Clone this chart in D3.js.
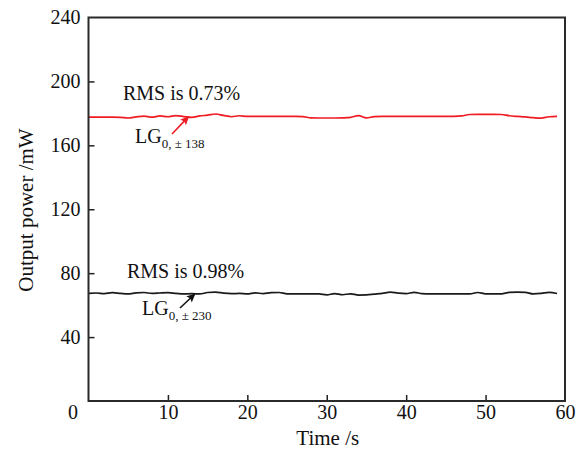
<!DOCTYPE html>
<html>
<head>
<meta charset="utf-8">
<script src="https://cdn.jsdelivr.net/npm/d3@7/dist/d3.min.js"></script>
<style>
  html, body { margin: 0; padding: 0; background: #fff; }
  svg { display: block; }
  text { font-family: "Liberation Serif", "Times New Roman", serif; fill: #111; }
</style>
</head>
<body>
<script>
// ---- data ----
const time = d3.range(0, 60); // 0..59 s
const redPower = [177.6,177.6,177.6,177.6,177.5,177.1,177.8,178.3,177.6,178.4,
                  177.9,178.6,178.0,177.5,178.4,178.9,179.6,178.7,177.9,178.5,
                  178.1,178.1,178.1,178.1,178.1,178.1,178.1,178.0,177.2,177.1,
                  177.1,177.1,177.2,177.5,178.6,177.2,178.0,178.1,178.1,178.1,
                  178.1,178.1,178.1,178.1,178.1,178.1,178.1,178.4,179.3,179.4,
                  179.4,179.4,179.3,178.5,178.1,177.8,177.3,177.0,177.9,178.1];
const blackPower = [67.3,67.6,67.2,67.8,67.4,67.0,67.7,67.9,67.3,67.6,
                    67.8,67.4,67.0,67.2,67.0,67.9,68.1,67.5,67.2,67.3,
                    67.0,67.7,67.2,67.8,67.9,67.1,67.0,67.0,67.0,67.0,
                    66.4,67.2,66.5,67.1,66.3,66.4,66.9,67.4,68.1,67.5,
                    67.2,68.0,67.2,67.0,67.0,67.0,67.0,67.0,67.0,67.9,
                    67.1,67.0,67.1,68.0,68.1,68.0,67.0,67.3,68.0,67.3];
const xTicks = [10, 20, 30, 40, 50, 60];
const yTicks = [40, 80, 120, 160, 200, 240];
const xTitle = "Time /s";
const yTitle = "Output power /mW";
const annotations = [
  {rms: "RMS is 0.73%", sub: "0, \u00b1 138", color: "#f01c24", t: 12.6, v: 178.6,
   rmsPos: [123, 100], lgPos: [135, 143], tail: [172, 134]},
  {rms: "RMS is 0.98%", sub: "0, \u00b1 230", color: "#111", t: 13.4, v: 67.6,
   rmsPos: [127, 278], lgPos: [142, 315], tail: [180, 308]}
];

// ---- layout ----
const W = 583, H = 452;
const mLeft = 88.5, mRight = 565, mTop = 17.5, mBottom = 401;

const svg = d3.select("body").append("svg").attr("width", W).attr("height", H);

const x = d3.scaleLinear().domain([0, 60]).range([mLeft, mRight]);
const y = d3.scaleLinear().domain([0, 240]).range([mBottom, mTop]);

// lines
const line = d3.line().x((d, i) => x(time[i])).y(d => y(d)).curve(d3.curveMonotoneX);
svg.append("path").datum(redPower).attr("d", line)
  .attr("fill", "none").attr("stroke", "#f01c24").attr("stroke-width", 1.7);
svg.append("path").datum(blackPower).attr("d", line)
  .attr("fill", "none").attr("stroke", "#1a1a1a").attr("stroke-width", 1.7);

// axes
const xAxis = d3.axisBottom(x).tickValues(xTicks).tickSizeInner(-6).tickSizeOuter(0).tickPadding(4)
  .tickFormat(d3.format("d"));
const gx = svg.append("g").attr("transform", `translate(0,${mBottom})`).call(xAxis);
const yAxis = d3.axisLeft(y).tickValues(yTicks).tickSizeInner(-6).tickSizeOuter(0).tickPadding(8)
  .tickFormat(d3.format("d"));
const gy = svg.append("g").attr("transform", `translate(${mLeft},0)`).call(yAxis);

[gx, gy].forEach(g => {
  g.select(".domain").remove();
  g.selectAll(".tick line").attr("stroke", "#222").attr("stroke-width", 1.5);
  g.selectAll(".tick text").attr("font-size", 20).attr("fill", "#111")
    .style("font-family", "'Liberation Serif', serif");
});
gx.selectAll(".tick").filter(d => d === 60).select("line").remove();
gy.selectAll(".tick").filter(d => d === 240).select("line").remove();

// corner zero label
svg.append("text").attr("x", 73).attr("y", 419).attr("text-anchor", "middle")
  .attr("font-size", 20).text("0");

// frame
svg.append("rect").attr("x", mLeft).attr("y", mTop).attr("width", mRight - mLeft).attr("height", mBottom - mTop)
  .attr("fill", "none").attr("stroke", "#2a2a2a").attr("stroke-width", 2);

// titles
svg.append("text").attr("x", (mLeft + mRight) / 2 + 1).attr("y", 445).attr("text-anchor", "middle")
  .attr("font-size", 21).text(xTitle);
svg.append("text").attr("transform", "translate(33,210) rotate(-90)").attr("text-anchor", "middle")
  .attr("font-size", 21).text(yTitle);

// annotations
const defs = svg.append("defs");
annotations.forEach((a, i) => {
  defs.append("marker").attr("id", "ah" + i).attr("viewBox", "0 0 10 10")
    .attr("refX", 9).attr("refY", 5).attr("markerWidth", 10).attr("markerHeight", 9)
    .attr("markerUnits", "userSpaceOnUse").attr("orient", "auto")
    .append("path").attr("d", "M0,0.5 L10,5 L0,9.5 L2,5 z").attr("fill", a.color);
  svg.append("text").attr("x", a.rmsPos[0]).attr("y", a.rmsPos[1]).attr("font-size", 20).text(a.rms);
  const t = svg.append("text").attr("x", a.lgPos[0]).attr("y", a.lgPos[1]).attr("font-size", 20);
  t.append("tspan").text("LG");
  t.append("tspan").attr("font-size", 13).attr("dy", 5).text(a.sub);
  svg.append("line").attr("x1", a.tail[0]).attr("y1", a.tail[1])
    .attr("x2", x(a.t)).attr("y2", y(a.v) + 1)
    .attr("stroke", a.color).attr("stroke-width", 1.6).attr("marker-end", `url(#ah${i})`);
});
</script>
</body>
</html>
